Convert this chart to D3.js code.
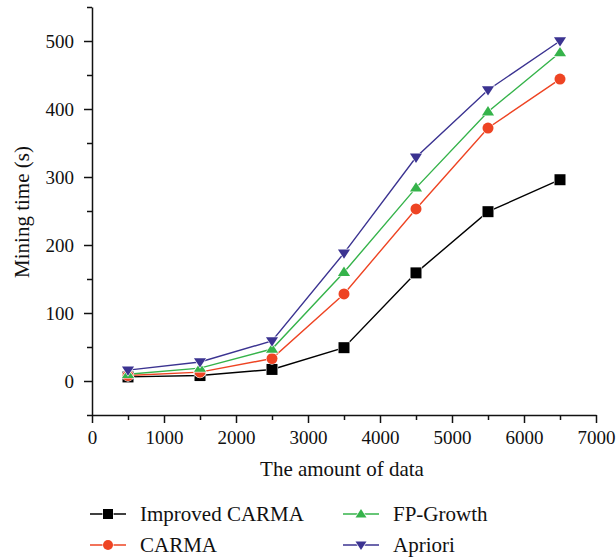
<!DOCTYPE html>
<html>
<head>
<meta charset="utf-8">
<script src="https://cdn.jsdelivr.net/npm/d3@7"></script>
<style>
body { margin: 0; background: #fff; }
text { font-family: "Liberation Serif", "DejaVu Serif", serif; fill: #111; }
</style>
</head>
<body>
<div id="svg"></div>
<script>
var amounts = [500, 1500, 2500, 3500, 4500, 5500, 6500]
var improvedCarma = [6, 8, 17, 49, 159, 249, 296]
var carma = [8, 13, 33, 128, 253, 372, 444]
var fpGrowth = [10, 19, 47, 160, 284, 396, 483]
var apriori = [16, 28, 59, 188, 329, 428, 500]
var xTicks = [0, 1000, 2000, 3000, 4000, 5000, 6000, 7000]
var yTicks = [0, 100, 200, 300, 400, 500]

var series = [
    {name: "Improved CARMA", values: improvedCarma, color: "#000000", symbol: d3.symbolSquare},
    {name: "CARMA", values: carma, color: "#ee4423", symbol: d3.symbolCircle},
    {name: "FP-Growth", values: fpGrowth, color: "#35b34a", symbol: "up"},
    {name: "Apriori", values: apriori, color: "#3b3391", symbol: "down"}
]

var margin = {top: 7, right: 20, bottom: 145, left: 92},
    width = 596 - margin.left,
    height = 415 - margin.top;

var svg = d3.select("#svg")
    .append("svg")
    .attr("width", 616)
    .attr("height", 559)
    .append("g")
    .attr("transform", "translate(" + margin.left + "," + margin.top + ")");

var x = d3.scaleLinear().domain([0, 7000]).range([0, width]);
var y = d3.scaleLinear().domain([-50, 550]).range([height, 0]);

// minor ticks
svg.append("g")
    .attr("transform", "translate(0," + height + ")")
    .call(d3.axisBottom(x).tickValues(d3.range(500, 7000, 1000)).tickSize(5).tickFormat(""))
    .call(function(g) { g.select(".domain").remove(); });
svg.append("g")
    .call(d3.axisLeft(y).tickValues([-50, 50, 150, 250, 350, 450, 550]).tickSize(5).tickFormat(""))
    .call(function(g) { g.select(".domain").remove(); });

// X axis
svg.append("g")
    .attr("transform", "translate(0," + height + ")")
    .call(d3.axisBottom(x).tickValues(xTicks).tickSize(8).tickSizeOuter(0).tickPadding(8).tickFormat(d3.format("d")))
    .call(function(g) { g.selectAll("text").style("font-size", "19px"); });

// Y axis
svg.append("g")
    .call(d3.axisLeft(y).tickValues(yTicks).tickSize(8).tickSizeOuter(0).tickPadding(10).tickFormat(d3.format("d")))
    .call(function(g) { g.selectAll("text").style("font-size", "19px"); });

svg.selectAll(".domain, .tick line").style("stroke", "#111").style("stroke-width", 1.5);

// axis titles
svg.append("text")
    .attr("x", width / 2 - 2)
    .attr("y", 476 - margin.top)
    .attr("text-anchor", "middle")
    .style("font-size", "21px")
    .text("The amount of data");

svg.append("text")
    .attr("transform", "rotate(-90)")
    .attr("x", -(212 - margin.top))
    .attr("y", 29 - margin.left)
    .attr("text-anchor", "middle")
    .style("font-size", "21px")
    .text("Mining time (s)");

function marker(sel, s, size) {
    var p;
    if (s.symbol === "up" || s.symbol === "down") {
        var h = size * 0.85, w = size * 1.1;
        var pts = s.symbol === "up"
            ? [[0, -h * 0.6], [w / 2, h * 0.4], [-w / 2, h * 0.4]]
            : [[0, h * 0.6], [w / 2, -h * 0.4], [-w / 2, -h * 0.4]];
        p = sel.append("path").attr("d", d3.line()(pts) + "Z");
    } else {
        var area = s.symbol === d3.symbolSquare ? size * size : Math.PI * (size / 2) * (size / 2);
        p = sel.append("path").attr("d", d3.symbol().type(s.symbol).size(area)());
    }
    p.style("fill", s.color).style("stroke", "#fff").style("stroke-width", 1.2).style("paint-order", "stroke");
}

var line = d3.line()
    .x(function(d, i) { return x(amounts[i]); })
    .y(function(d) { return y(d); });

series.forEach(function(s) {
    svg.append("path")
        .attr("d", line(s.values))
        .style("fill", "none")
        .style("stroke", s.color)
        .style("stroke-width", 1.4);
});
series.forEach(function(s) {
    s.values.forEach(function(v, i) {
        var g = svg.append("g").attr("transform", "translate(" + x(amounts[i]) + "," + y(v) + ")");
        marker(g, s, 11);
    });
});

// legend
var legendPos = [[90, 514], [90, 545], [343, 514], [343, 545]];
series.forEach(function(s, j) {
    var lg = d3.select("svg").append("g")
        .attr("transform", "translate(" + legendPos[j][0] + "," + legendPos[j][1] + ")");
    lg.append("line").attr("x1", 0).attr("x2", 36).attr("y1", 0).attr("y2", 0)
        .style("stroke", s.color).style("stroke-width", 1.4);
    var mg = lg.append("g").attr("transform", "translate(18,0)");
    marker(mg, s, 10);
    lg.append("text").attr("x", 50).attr("y", 7).style("font-size", "21px").text(s.name);
});
</script>
</body>
</html>
